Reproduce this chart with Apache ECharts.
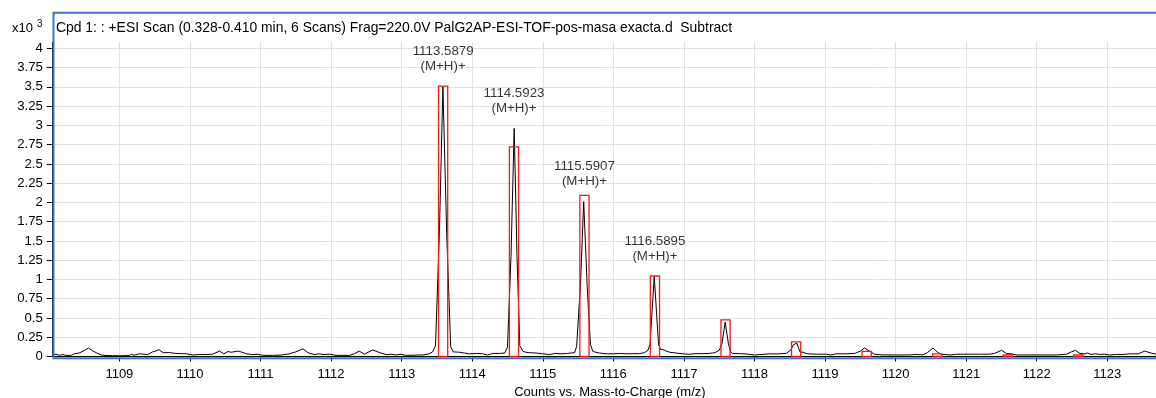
<!DOCTYPE html>
<html><head><meta charset="utf-8">
<script src="https://cdn.jsdelivr.net/npm/echarts@6/dist/echarts.min.js"></script>
<style>html,body{margin:0;padding:0;background:#fff}#c{width:1156px;height:398px}</style>
</head><body><div id="c"></div>
<script>
const titleText = 'Cpd 1: : +ESI Scan (0.328-0.410 min, 6 Scans) Frag=220.0V PalG2AP-ESI-TOF-pos-masa exacta.d  Subtract';
const xAxisTitle = 'Counts vs. Mass-to-Charge (m/z)';
const yScaleText = 'x10';
const yScaleExp = '3';

const spectrumMz = [
1108.05,1108.10,1108.15,1108.20,1108.24,1108.32,1108.36,1108.43,1108.50,1108.56,1108.62,1108.69,1108.76,1108.90,
1109.05,1109.14,1109.17,1109.21,1109.28,1109.35,1109.40,1109.47,1109.50,1109.56,1109.62,1109.71,1109.80,1109.95,
1110.04,1110.13,1110.23,1110.32,1110.42,1110.48,1110.54,1110.58,1110.69,1110.80,1110.89,1110.96,
1111.03,1111.17,1111.31,1111.41,1111.50,1111.60,1111.67,1111.76,1111.83,1111.90,1111.98,
1112.07,1112.26,1112.33,1112.40,1112.47,1112.59,1112.69,1112.78,1112.85,1112.92,1112.99,
1113.06,1113.30,1113.39,1113.44,1113.48,1113.535,1113.585,1113.64,1113.695,1113.73,1113.82,1113.89,1113.96,
1114.06,1114.15,1114.22,1114.29,1114.39,1114.46,1114.50,1114.55,1114.595,1114.635,1114.675,1114.72,1114.79,1114.91,
1115.00,1115.10,1115.17,1115.26,1115.35,1115.45,1115.48,1115.535,1115.58,1115.63,1115.675,1115.71,1115.80,1115.90,
1116.00,1116.09,1116.18,1116.28,1116.37,1116.44,1116.49,1116.52,1116.58,1116.64,1116.67,1116.70,1116.75,1116.80,1116.89,1116.98,
1117.08,1117.17,1117.27,1117.36,1117.44,1117.50,1117.54,1117.585,1117.63,1117.66,1117.69,1117.79,1117.88,
1118.00,1118.12,1118.21,1118.31,1118.45,1118.52,1118.55,1118.575,1118.60,1118.625,1118.645,1118.69,1118.75,1118.88,
1119.02,1119.08,1119.16,1119.30,1119.42,1119.50,1119.56,1119.63,1119.70,1119.82,
1120.00,1120.20,1120.29,1120.38,1120.45,1120.53,1120.60,1120.65,1120.77,1120.86,
1121.00,1121.19,1121.33,1121.40,1121.50,1121.57,1121.64,1121.71,1121.90,
1122.09,1122.28,1122.42,1122.49,1122.55,1122.61,1122.68,1122.72,1122.77,1122.83,1122.89,1122.96,
1123.03,1123.13,1123.22,1123.32,1123.44,1123.53,1123.62,1123.69
];
const spectrumCounts = [
0.02,0.03,0.015,0.025,0.015,0.015,0.035,0.045,0.075,0.11,0.075,0.04,0.015,0.01,
0.01,0.012,0.03,0.015,0.035,0.03,0.025,0.06,0.065,0.09,0.05,0.05,0.04,0.035,
0.02,0.025,0.025,0.03,0.07,0.035,0.065,0.055,0.07,0.035,0.025,0.03,
0.015,0.015,0.02,0.035,0.06,0.10,0.05,0.025,0.035,0.025,0.03,
0.015,0.015,0.035,0.07,0.03,0.085,0.05,0.025,0.03,0.02,0.03,
0.015,0.02,0.035,0.06,0.14,1.6,3.50,1.55,0.13,0.06,0.055,0.045,0.035,
0.04,0.035,0.02,0.04,0.04,0.045,0.12,1.3,2.96,1.3,0.14,0.065,0.05,0.045,
0.035,0.025,0.04,0.035,0.04,0.05,0.13,0.95,2.01,0.9,0.16,0.065,0.045,0.035,
0.035,0.04,0.035,0.037,0.037,0.05,0.08,0.16,1.04,0.16,0.09,0.09,0.07,0.055,0.045,0.035,
0.03,0.037,0.037,0.04,0.05,0.08,0.17,0.445,0.17,0.065,0.04,0.037,0.033,
0.02,0.027,0.035,0.033,0.04,0.09,0.15,0.175,0.175,0.11,0.06,0.055,0.035,0.03,
0.03,0.02,0.035,0.035,0.04,0.07,0.11,0.07,0.03,0.02,
0.02,0.02,0.027,0.02,0.05,0.11,0.05,0.03,0.02,0.03,
0.03,0.03,0.03,0.04,0.08,0.04,0.035,0.02,0.02,
0.02,0.02,0.03,0.06,0.08,0.04,0.033,0.045,0.027,0.035,0.027,0.03,
0.02,0.027,0.025,0.035,0.035,0.07,0.045,0.03
];

const isotopeMz = [1113.5879,1114.5923,1115.5907,1116.5895,1117.59,1118.59,1119.59,1120.59,1121.59,1122.59];
const isotopeHeights = [3.51,2.72,2.09,1.045,0.475,0.19,0.067,0.035,0.02,0.02];
const annotatedMz = ['1113.5879','1114.5923','1115.5907','1116.5895'];
const annotationSpecies = '(M+H)+';

const FONT = 'Liberation Sans, Arial, sans-serif';
const BOX_HALF = 0.065;

function apexNear(m){
  let best = 0;
  for (let i = 0; i < spectrumMz.length; i++) {
    if (Math.abs(spectrumMz[i] - m) <= 0.08 && spectrumCounts[i] > best) best = spectrumCounts[i];
  }
  return best;
}

const chart = echarts.init(document.getElementById('c'), null, {renderer: 'canvas'});
chart.setOption({
  animation: false,
  backgroundColor: '#fff',
  textStyle: {fontFamily: FONT},
  grid: {left: 48.8, right: 0, top: 42, bottom: 41.5, containLabel: false, outerBoundsMode: 'none'},
  xAxis: {
    type: 'value', min: 1108, max: 1123.69, interval: 1, offset: 3,
    axisLine: {show: true, lineStyle: {color: '#000', width: 1}},
    axisTick: {show: true, length: 5, lineStyle: {color: '#000'}},
    axisLabel: {fontSize: 13, color: '#000', margin: 8.5, showMinLabel: false, showMaxLabel: false, fontFamily: FONT,
                formatter: v => String(Math.round(v))},
    splitLine: {show: true, showMinLine: false, showMaxLine: false, lineStyle: {color: '#e2e2e2', width: 1}},
    name: xAxisTitle, nameLocation: 'middle', nameGap: 22.5,
    nameTextStyle: {fontSize: 13, color: '#000', fontFamily: FONT, padding: [0, 0, 0, 15]}
  },
  yAxis: {
    type: 'value', min: 0, max: 4.082, interval: 0.25, offset: -3,
    axisLine: {show: true, lineStyle: {color: '#000', width: 1}},
    axisTick: {show: true, length: 5, lineStyle: {color: '#000'}},
    axisLabel: {fontSize: 13.2, color: '#000', margin: 9, showMaxLabel: false, fontFamily: FONT},
    splitLine: {show: true, showMaxLine: false, lineStyle: {color: '#e2e2e2', width: 1}}
  },
  series: [
    {
      type: 'line', silent: true, showSymbol: false, symbol: 'none', z: 2,
      lineStyle: {color: '#000', width: 1},
      data: spectrumMz.map((m, i) => [m, spectrumCounts[i]])
    },
    {
      type: 'custom', silent: true, z: 3,
      data: isotopeMz.map((m, i) => [m, isotopeHeights[i]]),
      renderItem: function (params, api) {
        const m = api.value(0), h = api.value(1);
        const p0 = api.coord([m - BOX_HALF, 0]);
        const p1 = api.coord([m + BOX_HALF, h]);
        return {
          type: 'rect',
          shape: {x: p0[0], y: p1[1], width: p1[0] - p0[0], height: p0[1] - p1[1]},
          style: {fill: 'none', stroke: '#ee1c1c', lineWidth: 1.3}
        };
      }
    },
    {
      type: 'scatter', silent: true, symbolSize: 0, z: 4,
      data: annotatedMz.map(s => ({name: s, value: [parseFloat(s), apexNear(parseFloat(s))]})),
      label: {
        show: true, position: 'top', distance: 13,
        formatter: '{b}\n' + annotationSpecies,
        fontSize: 13.3, lineHeight: 15, color: '#000', fontFamily: FONT, align: 'center'
      }
    }
  ],
  graphic: [
    {type: 'rect', z: 100, silent: true,
     shape: {x: 53.5, y: 12.7, width: 1110, height: 345.6},
     style: {fill: 'none', stroke: '#3f73cf', lineWidth: 2}},
    {type: 'text', z: 100, silent: true, x: 12, y: 28,
     style: {text: yScaleText, font: '13px ' + FONT, fill: '#000', verticalAlign: 'middle'}},
    {type: 'text', z: 100, silent: true, x: 37, y: 24.5,
     style: {text: yScaleExp, font: '10px ' + FONT, fill: '#000', verticalAlign: 'middle'}},
    {type: 'text', z: 100, silent: true, x: 56, y: 28,
     style: {text: titleText, font: '13.9px ' + FONT, fill: '#000', verticalAlign: 'middle'}}
  ]
});
</script>
</body></html>
